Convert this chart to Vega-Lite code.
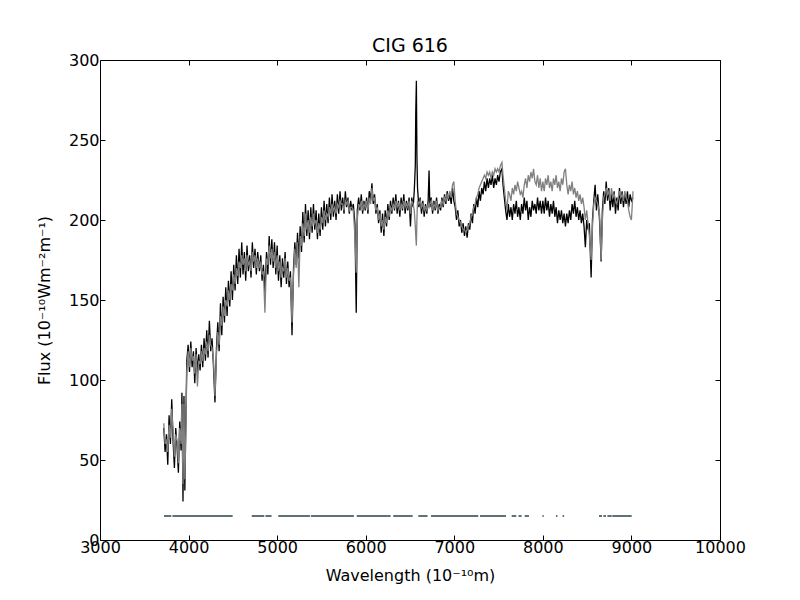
{
  "$schema": "https://vega.github.io/schema/vega-lite/v6.json",
  "width": 620,
  "height": 480,
  "autosize": {"type": "none"},
  "padding": {"left": 100, "top": 60, "right": 80, "bottom": 60},
  "background": "white",
  "title": {"text": "CIG 616", "font": "DejaVu Sans", "fontSize": 19, "fontWeight": "normal", "color": "black", "offset": -23, "anchor": "middle", "baseline": "bottom"},
  "config": {
    "view": {"stroke": "black", "strokeWidth": 1},
    "axis": {
      "domain": false, "grid": false, "tickColor": "black", "tickSize": -5, "tickWidth": 1, "labelFlush": false,
      "labelFont": "DejaVu Sans", "labelFontSize": 16, "labelColor": "black",
      "titleFont": "DejaVu Sans", "titleFontSize": 16, "titleFontWeight": "normal", "titleColor": "black"
    }
  },
  "datasets": {
    "spec": [
      {"wavelength": 3720, "observed": 70, "model": 73},
      {"wavelength": 3735, "observed": 55, "model": 60},
      {"wavelength": 3750, "observed": 66, "model": 62},
      {"wavelength": 3765, "observed": 47, "model": 55},
      {"wavelength": 3780, "observed": 78, "model": 72},
      {"wavelength": 3795, "observed": 60, "model": 64},
      {"wavelength": 3810, "observed": 88, "model": 82},
      {"wavelength": 3825, "observed": 62, "model": 68},
      {"wavelength": 3840, "observed": 45, "model": 52},
      {"wavelength": 3855, "observed": 70, "model": 66},
      {"wavelength": 3870, "observed": 58, "model": 62},
      {"wavelength": 3885, "observed": 42, "model": 48},
      {"wavelength": 3900, "observed": 74, "model": 70},
      {"wavelength": 3915, "observed": 56, "model": 60},
      {"wavelength": 3925, "observed": 92, "model": 85},
      {"wavelength": 3937, "observed": 24, "model": 35},
      {"wavelength": 3948, "observed": 90, "model": 85},
      {"wavelength": 3958, "observed": 31, "model": 38},
      {"wavelength": 3968, "observed": 70, "model": 65},
      {"wavelength": 3980, "observed": 112, "model": 105},
      {"wavelength": 3995, "observed": 122, "model": 118},
      {"wavelength": 4010, "observed": 105, "model": 108},
      {"wavelength": 4025, "observed": 124, "model": 120},
      {"wavelength": 4040, "observed": 108, "model": 112},
      {"wavelength": 4055, "observed": 118, "model": 115},
      {"wavelength": 4070, "observed": 98, "model": 104},
      {"wavelength": 4085, "observed": 120, "model": 116},
      {"wavelength": 4100, "observed": 104, "model": 96},
      {"wavelength": 4115, "observed": 116, "model": 112},
      {"wavelength": 4130, "observed": 106, "model": 110},
      {"wavelength": 4145, "observed": 122, "model": 118},
      {"wavelength": 4160, "observed": 108, "model": 112},
      {"wavelength": 4175, "observed": 126, "model": 120},
      {"wavelength": 4190, "observed": 112, "model": 116},
      {"wavelength": 4205, "observed": 131, "model": 124},
      {"wavelength": 4220, "observed": 114, "model": 118},
      {"wavelength": 4235, "observed": 137, "model": 128},
      {"wavelength": 4250, "observed": 118, "model": 122},
      {"wavelength": 4265, "observed": 126, "model": 120},
      {"wavelength": 4280, "observed": 110, "model": 114},
      {"wavelength": 4298, "observed": 86, "model": 90},
      {"wavelength": 4315, "observed": 120, "model": 116},
      {"wavelength": 4330, "observed": 136, "model": 130},
      {"wavelength": 4345, "observed": 118, "model": 122},
      {"wavelength": 4360, "observed": 148, "model": 140},
      {"wavelength": 4375, "observed": 128, "model": 134},
      {"wavelength": 4390, "observed": 152, "model": 146},
      {"wavelength": 4405, "observed": 136, "model": 140},
      {"wavelength": 4420, "observed": 158, "model": 150},
      {"wavelength": 4435, "observed": 140, "model": 146},
      {"wavelength": 4450, "observed": 162, "model": 156},
      {"wavelength": 4465, "observed": 146, "model": 150},
      {"wavelength": 4480, "observed": 168, "model": 160},
      {"wavelength": 4495, "observed": 150, "model": 156},
      {"wavelength": 4510, "observed": 172, "model": 166},
      {"wavelength": 4525, "observed": 156, "model": 160},
      {"wavelength": 4540, "observed": 178, "model": 170},
      {"wavelength": 4555, "observed": 160, "model": 165},
      {"wavelength": 4570, "observed": 182, "model": 174},
      {"wavelength": 4585, "observed": 164, "model": 170},
      {"wavelength": 4600, "observed": 186, "model": 178},
      {"wavelength": 4615, "observed": 166, "model": 172},
      {"wavelength": 4630, "observed": 180, "model": 176},
      {"wavelength": 4645, "observed": 162, "model": 168},
      {"wavelength": 4660, "observed": 184, "model": 178},
      {"wavelength": 4675, "observed": 168, "model": 172},
      {"wavelength": 4690, "observed": 178, "model": 174},
      {"wavelength": 4705, "observed": 164, "model": 168},
      {"wavelength": 4720, "observed": 186, "model": 180},
      {"wavelength": 4735, "observed": 170, "model": 174},
      {"wavelength": 4750, "observed": 182, "model": 178},
      {"wavelength": 4765, "observed": 166, "model": 170},
      {"wavelength": 4780, "observed": 180, "model": 176},
      {"wavelength": 4800, "observed": 168, "model": 170},
      {"wavelength": 4815, "observed": 178, "model": 174},
      {"wavelength": 4830, "observed": 162, "model": 166},
      {"wavelength": 4845, "observed": 172, "model": 168},
      {"wavelength": 4862, "observed": 155, "model": 142},
      {"wavelength": 4880, "observed": 180, "model": 176},
      {"wavelength": 4895, "observed": 166, "model": 172},
      {"wavelength": 4910, "observed": 190, "model": 184},
      {"wavelength": 4925, "observed": 172, "model": 176},
      {"wavelength": 4940, "observed": 188, "model": 182},
      {"wavelength": 4955, "observed": 170, "model": 174},
      {"wavelength": 4970, "observed": 186, "model": 180},
      {"wavelength": 4985, "observed": 166, "model": 170},
      {"wavelength": 5000, "observed": 184, "model": 178},
      {"wavelength": 5015, "observed": 162, "model": 168},
      {"wavelength": 5030, "observed": 178, "model": 174},
      {"wavelength": 5045, "observed": 158, "model": 164},
      {"wavelength": 5060, "observed": 176, "model": 170},
      {"wavelength": 5075, "observed": 164, "model": 168},
      {"wavelength": 5090, "observed": 180, "model": 176},
      {"wavelength": 5105, "observed": 160, "model": 164},
      {"wavelength": 5120, "observed": 174, "model": 170},
      {"wavelength": 5135, "observed": 158, "model": 162},
      {"wavelength": 5150, "observed": 168, "model": 164},
      {"wavelength": 5168, "observed": 128, "model": 136},
      {"wavelength": 5185, "observed": 170, "model": 166},
      {"wavelength": 5200, "observed": 186, "model": 182},
      {"wavelength": 5215, "observed": 172, "model": 170},
      {"wavelength": 5230, "observed": 192, "model": 186},
      {"wavelength": 5245, "observed": 176, "model": 158},
      {"wavelength": 5260, "observed": 196, "model": 190},
      {"wavelength": 5275, "observed": 180, "model": 184},
      {"wavelength": 5290, "observed": 205, "model": 198},
      {"wavelength": 5305, "observed": 186, "model": 190},
      {"wavelength": 5320, "observed": 210, "model": 204},
      {"wavelength": 5335, "observed": 190, "model": 194},
      {"wavelength": 5350, "observed": 206, "model": 200},
      {"wavelength": 5365, "observed": 188, "model": 192},
      {"wavelength": 5380, "observed": 208, "model": 202},
      {"wavelength": 5395, "observed": 192, "model": 196},
      {"wavelength": 5410, "observed": 210, "model": 204},
      {"wavelength": 5425, "observed": 194, "model": 198},
      {"wavelength": 5440, "observed": 206, "model": 200},
      {"wavelength": 5455, "observed": 188, "model": 192},
      {"wavelength": 5470, "observed": 204, "model": 198},
      {"wavelength": 5485, "observed": 190, "model": 194},
      {"wavelength": 5500, "observed": 208, "model": 202},
      {"wavelength": 5515, "observed": 194, "model": 198},
      {"wavelength": 5530, "observed": 212, "model": 206},
      {"wavelength": 5545, "observed": 196, "model": 200},
      {"wavelength": 5560, "observed": 210, "model": 204},
      {"wavelength": 5575, "observed": 198, "model": 202},
      {"wavelength": 5590, "observed": 214, "model": 208},
      {"wavelength": 5605, "observed": 200, "model": 204},
      {"wavelength": 5620, "observed": 216, "model": 210},
      {"wavelength": 5635, "observed": 202, "model": 206},
      {"wavelength": 5650, "observed": 212, "model": 208},
      {"wavelength": 5665, "observed": 200, "model": 204},
      {"wavelength": 5680, "observed": 216, "model": 210},
      {"wavelength": 5695, "observed": 204, "model": 208},
      {"wavelength": 5710, "observed": 218, "model": 212},
      {"wavelength": 5725, "observed": 206, "model": 210},
      {"wavelength": 5740, "observed": 214, "model": 210},
      {"wavelength": 5755, "observed": 204, "model": 206},
      {"wavelength": 5770, "observed": 218, "model": 212},
      {"wavelength": 5785, "observed": 208, "model": 210},
      {"wavelength": 5800, "observed": 214, "model": 212},
      {"wavelength": 5815, "observed": 204, "model": 206},
      {"wavelength": 5830, "observed": 212, "model": 208},
      {"wavelength": 5845, "observed": 206, "model": 208},
      {"wavelength": 5860, "observed": 210, "model": 206},
      {"wavelength": 5878, "observed": 198, "model": 190},
      {"wavelength": 5893, "observed": 142, "model": 167},
      {"wavelength": 5905, "observed": 206, "model": 200},
      {"wavelength": 5920, "observed": 214, "model": 210},
      {"wavelength": 5935, "observed": 206, "model": 208},
      {"wavelength": 5950, "observed": 216, "model": 212},
      {"wavelength": 5965, "observed": 204, "model": 206},
      {"wavelength": 5980, "observed": 212, "model": 210},
      {"wavelength": 5995, "observed": 206, "model": 208},
      {"wavelength": 6010, "observed": 214, "model": 212},
      {"wavelength": 6025, "observed": 204, "model": 206},
      {"wavelength": 6040, "observed": 218, "model": 214},
      {"wavelength": 6055, "observed": 212, "model": 210},
      {"wavelength": 6070, "observed": 223, "model": 220},
      {"wavelength": 6085, "observed": 210, "model": 212},
      {"wavelength": 6100, "observed": 216, "model": 214},
      {"wavelength": 6115, "observed": 204, "model": 206},
      {"wavelength": 6130, "observed": 210, "model": 208},
      {"wavelength": 6145, "observed": 198, "model": 200},
      {"wavelength": 6160, "observed": 206, "model": 204},
      {"wavelength": 6175, "observed": 192, "model": 196},
      {"wavelength": 6190, "observed": 204, "model": 200},
      {"wavelength": 6205, "observed": 190, "model": 194},
      {"wavelength": 6220, "observed": 206, "model": 202},
      {"wavelength": 6235, "observed": 196, "model": 198},
      {"wavelength": 6250, "observed": 210, "model": 206},
      {"wavelength": 6265, "observed": 200, "model": 202},
      {"wavelength": 6280, "observed": 212, "model": 208},
      {"wavelength": 6295, "observed": 204, "model": 206},
      {"wavelength": 6310, "observed": 214, "model": 210},
      {"wavelength": 6325, "observed": 206, "model": 208},
      {"wavelength": 6340, "observed": 216, "model": 212},
      {"wavelength": 6355, "observed": 204, "model": 208},
      {"wavelength": 6370, "observed": 212, "model": 210},
      {"wavelength": 6385, "observed": 202, "model": 206},
      {"wavelength": 6400, "observed": 214, "model": 210},
      {"wavelength": 6415, "observed": 206, "model": 208},
      {"wavelength": 6430, "observed": 216, "model": 212},
      {"wavelength": 6445, "observed": 204, "model": 208},
      {"wavelength": 6460, "observed": 212, "model": 210},
      {"wavelength": 6475, "observed": 206, "model": 208},
      {"wavelength": 6490, "observed": 214, "model": 212},
      {"wavelength": 6505, "observed": 196, "model": 204},
      {"wavelength": 6520, "observed": 214, "model": 212},
      {"wavelength": 6535, "observed": 208, "model": 210},
      {"wavelength": 6548, "observed": 218, "model": 206},
      {"wavelength": 6560, "observed": 234, "model": 196},
      {"wavelength": 6565, "observed": 267, "model": 190},
      {"wavelength": 6572, "observed": 287, "model": 184},
      {"wavelength": 6578, "observed": 240, "model": 200},
      {"wavelength": 6585, "observed": 220, "model": 212},
      {"wavelength": 6600, "observed": 208, "model": 210},
      {"wavelength": 6615, "observed": 214, "model": 212},
      {"wavelength": 6630, "observed": 204, "model": 208},
      {"wavelength": 6645, "observed": 212, "model": 210},
      {"wavelength": 6660, "observed": 202, "model": 206},
      {"wavelength": 6675, "observed": 210, "model": 208},
      {"wavelength": 6690, "observed": 204, "model": 206},
      {"wavelength": 6705, "observed": 212, "model": 210},
      {"wavelength": 6715, "observed": 231, "model": 208},
      {"wavelength": 6725, "observed": 208, "model": 210},
      {"wavelength": 6740, "observed": 214, "model": 212},
      {"wavelength": 6755, "observed": 204, "model": 206},
      {"wavelength": 6770, "observed": 212, "model": 210},
      {"wavelength": 6785, "observed": 206, "model": 208},
      {"wavelength": 6800, "observed": 214, "model": 212},
      {"wavelength": 6815, "observed": 204, "model": 206},
      {"wavelength": 6830, "observed": 210, "model": 208},
      {"wavelength": 6845, "observed": 206, "model": 208},
      {"wavelength": 6860, "observed": 214, "model": 212},
      {"wavelength": 6875, "observed": 208, "model": 210},
      {"wavelength": 6890, "observed": 216, "model": 214},
      {"wavelength": 6905, "observed": 210, "model": 212},
      {"wavelength": 6920, "observed": 218, "model": 216},
      {"wavelength": 6935, "observed": 212, "model": 214},
      {"wavelength": 6950, "observed": 216, "model": 218},
      {"wavelength": 6965, "observed": 210, "model": 214},
      {"wavelength": 6980, "observed": 220, "model": 222},
      {"wavelength": 6995, "observed": 212, "model": 224},
      {"wavelength": 7010, "observed": 208, "model": 212},
      {"wavelength": 7025, "observed": 200, "model": 204},
      {"wavelength": 7040, "observed": 206, "model": 202},
      {"wavelength": 7055, "observed": 196, "model": 200},
      {"wavelength": 7070, "observed": 200, "model": 198},
      {"wavelength": 7085, "observed": 192, "model": 196},
      {"wavelength": 7100, "observed": 198, "model": 194},
      {"wavelength": 7115, "observed": 190, "model": 194},
      {"wavelength": 7130, "observed": 196, "model": 192},
      {"wavelength": 7145, "observed": 189, "model": 194},
      {"wavelength": 7160, "observed": 198, "model": 196},
      {"wavelength": 7175, "observed": 194, "model": 198},
      {"wavelength": 7190, "observed": 204, "model": 202},
      {"wavelength": 7205, "observed": 198, "model": 204},
      {"wavelength": 7220, "observed": 210, "model": 208},
      {"wavelength": 7235, "observed": 204, "model": 210},
      {"wavelength": 7250, "observed": 214, "model": 214},
      {"wavelength": 7265, "observed": 208, "model": 216},
      {"wavelength": 7280, "observed": 218, "model": 220},
      {"wavelength": 7295, "observed": 212, "model": 222},
      {"wavelength": 7310, "observed": 220, "model": 224},
      {"wavelength": 7325, "observed": 216, "model": 226},
      {"wavelength": 7340, "observed": 224, "model": 228},
      {"wavelength": 7355, "observed": 218, "model": 226},
      {"wavelength": 7370, "observed": 226, "model": 230},
      {"wavelength": 7385, "observed": 220, "model": 228},
      {"wavelength": 7400, "observed": 226, "model": 230},
      {"wavelength": 7415, "observed": 222, "model": 226},
      {"wavelength": 7430, "observed": 228, "model": 230},
      {"wavelength": 7445, "observed": 220, "model": 228},
      {"wavelength": 7460, "observed": 226, "model": 232},
      {"wavelength": 7475, "observed": 222, "model": 230},
      {"wavelength": 7490, "observed": 228, "model": 232},
      {"wavelength": 7505, "observed": 224, "model": 230},
      {"wavelength": 7520, "observed": 230, "model": 234},
      {"wavelength": 7538, "observed": 232, "model": 236},
      {"wavelength": 7550, "observed": 222, "model": 228},
      {"wavelength": 7565, "observed": 214, "model": 220},
      {"wavelength": 7580, "observed": 206, "model": 212},
      {"wavelength": 7595, "observed": 200, "model": 206},
      {"wavelength": 7610, "observed": 210, "model": 218},
      {"wavelength": 7625, "observed": 202, "model": 216},
      {"wavelength": 7640, "observed": 208, "model": 212},
      {"wavelength": 7655, "observed": 200, "model": 220},
      {"wavelength": 7670, "observed": 210, "model": 216},
      {"wavelength": 7685, "observed": 204, "model": 222},
      {"wavelength": 7700, "observed": 212, "model": 218},
      {"wavelength": 7715, "observed": 202, "model": 224},
      {"wavelength": 7730, "observed": 208, "model": 220},
      {"wavelength": 7745, "observed": 200, "model": 216},
      {"wavelength": 7760, "observed": 210, "model": 218},
      {"wavelength": 7775, "observed": 204, "model": 214},
      {"wavelength": 7790, "observed": 214, "model": 222},
      {"wavelength": 7805, "observed": 206, "model": 226},
      {"wavelength": 7820, "observed": 212, "model": 220},
      {"wavelength": 7835, "observed": 200, "model": 228},
      {"wavelength": 7850, "observed": 208, "model": 224},
      {"wavelength": 7865, "observed": 202, "model": 230},
      {"wavelength": 7880, "observed": 212, "model": 226},
      {"wavelength": 7895, "observed": 206, "model": 232},
      {"wavelength": 7910, "observed": 210, "model": 224},
      {"wavelength": 7925, "observed": 204, "model": 222},
      {"wavelength": 7940, "observed": 214, "model": 228},
      {"wavelength": 7955, "observed": 206, "model": 220},
      {"wavelength": 7970, "observed": 212, "model": 226},
      {"wavelength": 7985, "observed": 204, "model": 218},
      {"wavelength": 8000, "observed": 212, "model": 224},
      {"wavelength": 8015, "observed": 204, "model": 218},
      {"wavelength": 8030, "observed": 214, "model": 226},
      {"wavelength": 8045, "observed": 206, "model": 222},
      {"wavelength": 8060, "observed": 212, "model": 228},
      {"wavelength": 8075, "observed": 202, "model": 220},
      {"wavelength": 8090, "observed": 210, "model": 224},
      {"wavelength": 8105, "observed": 204, "model": 218},
      {"wavelength": 8120, "observed": 212, "model": 226},
      {"wavelength": 8135, "observed": 202, "model": 222},
      {"wavelength": 8150, "observed": 208, "model": 228},
      {"wavelength": 8165, "observed": 198, "model": 220},
      {"wavelength": 8180, "observed": 206, "model": 224},
      {"wavelength": 8195, "observed": 200, "model": 218},
      {"wavelength": 8210, "observed": 206, "model": 226},
      {"wavelength": 8225, "observed": 198, "model": 222},
      {"wavelength": 8240, "observed": 204, "model": 230},
      {"wavelength": 8255, "observed": 196, "model": 232},
      {"wavelength": 8270, "observed": 204, "model": 222},
      {"wavelength": 8285, "observed": 198, "model": 216},
      {"wavelength": 8300, "observed": 206, "model": 222},
      {"wavelength": 8315, "observed": 200, "model": 218},
      {"wavelength": 8330, "observed": 210, "model": 224},
      {"wavelength": 8345, "observed": 204, "model": 216},
      {"wavelength": 8360, "observed": 212, "model": 220},
      {"wavelength": 8375, "observed": 202, "model": 214},
      {"wavelength": 8390, "observed": 208, "model": 218},
      {"wavelength": 8405, "observed": 200, "model": 212},
      {"wavelength": 8420, "observed": 206, "model": 216},
      {"wavelength": 8435, "observed": 198, "model": 210},
      {"wavelength": 8450, "observed": 204, "model": 214},
      {"wavelength": 8465, "observed": 196, "model": 208},
      {"wavelength": 8480, "observed": 183, "model": 200},
      {"wavelength": 8495, "observed": 200, "model": 206},
      {"wavelength": 8510, "observed": 194, "model": 198},
      {"wavelength": 8525, "observed": 198, "model": 190},
      {"wavelength": 8545, "observed": 164, "model": 175},
      {"wavelength": 8560, "observed": 200, "model": 196},
      {"wavelength": 8575, "observed": 212, "model": 210},
      {"wavelength": 8590, "observed": 222, "model": 214},
      {"wavelength": 8605, "observed": 206, "model": 212},
      {"wavelength": 8620, "observed": 216, "model": 210},
      {"wavelength": 8640, "observed": 200, "model": 204},
      {"wavelength": 8658, "observed": 174, "model": 175},
      {"wavelength": 8672, "observed": 206, "model": 200},
      {"wavelength": 8687, "observed": 218, "model": 214},
      {"wavelength": 8700, "observed": 210, "model": 216},
      {"wavelength": 8715, "observed": 224, "model": 220},
      {"wavelength": 8730, "observed": 212, "model": 216},
      {"wavelength": 8745, "observed": 220, "model": 218},
      {"wavelength": 8760, "observed": 206, "model": 212},
      {"wavelength": 8775, "observed": 216, "model": 220},
      {"wavelength": 8790, "observed": 208, "model": 214},
      {"wavelength": 8805, "observed": 218, "model": 216},
      {"wavelength": 8820, "observed": 204, "model": 212},
      {"wavelength": 8835, "observed": 214, "model": 210},
      {"wavelength": 8850, "observed": 206, "model": 214},
      {"wavelength": 8865, "observed": 220, "model": 218},
      {"wavelength": 8880, "observed": 210, "model": 214},
      {"wavelength": 8895, "observed": 218, "model": 216},
      {"wavelength": 8910, "observed": 208, "model": 212},
      {"wavelength": 8925, "observed": 216, "model": 218},
      {"wavelength": 8940, "observed": 210, "model": 214},
      {"wavelength": 8955, "observed": 218, "model": 212},
      {"wavelength": 8970, "observed": 208, "model": 206},
      {"wavelength": 8985, "observed": 216, "model": 202},
      {"wavelength": 9000, "observed": 212, "model": 200},
      {"wavelength": 9018, "observed": 214, "model": 218}
    ],
    "mask": [
      {"start": 3722, "end": 3805},
      {"start": 3818, "end": 4498},
      {"start": 4713, "end": 4855},
      {"start": 4868, "end": 4937},
      {"start": 5013, "end": 5370},
      {"start": 5380, "end": 5867},
      {"start": 5898, "end": 6281},
      {"start": 6311, "end": 6530},
      {"start": 6594, "end": 6698},
      {"start": 6737, "end": 7271},
      {"start": 7290, "end": 7584},
      {"start": 7648, "end": 7700},
      {"start": 7725, "end": 7760},
      {"start": 7795, "end": 7843},
      {"start": 7995, "end": 8010},
      {"start": 8148, "end": 8165},
      {"start": 8222, "end": 8240},
      {"start": 8634, "end": 8668},
      {"start": 8683, "end": 8713},
      {"start": 8728, "end": 8777},
      {"start": 8784, "end": 9003}
    ]
  },
  "layer": [
    {
      "data": {"name": "spec"},
      "mark": {"type": "line", "color": "black", "strokeWidth": 1.3, "clip": true},
      "encoding": {
        "x": {"field": "wavelength", "type": "quantitative", "scale": {"domain": [3000, 10000], "nice": false, "zero": false},
              "axis": {"orient": "bottom", "title": "Wavelength (10⁻¹⁰m)", "values": [3000, 4000, 5000, 6000, 7000, 8000, 9000, 10000], "format": "d", "labelPadding": 4, "titlePadding": 12}},
        "y": {"field": "observed", "type": "quantitative", "scale": {"domain": [0, 300], "nice": false},
              "axis": {"orient": "left", "title": "Flux (10⁻¹⁰Wm⁻²m⁻¹)", "values": [0, 50, 100, 150, 200, 250, 300], "labelPadding": 6, "titlePadding": 16}}
      }
    },
    {
      "data": {"name": "spec"},
      "mark": {"type": "line", "color": "#808080", "strokeWidth": 1.3, "clip": true},
      "encoding": {
        "x": {"field": "wavelength", "type": "quantitative", "axis": null},
        "y": {"field": "model", "type": "quantitative", "axis": null}
      }
    },
    {
      "data": {"name": "mask"},
      "mark": {"type": "rule", "color": "#5f7377", "strokeWidth": 2},
      "encoding": {
        "x": {"field": "start", "type": "quantitative",
              "axis": {"orient": "top", "title": null, "labels": false, "values": [3000, 4000, 5000, 6000, 7000, 8000, 9000, 10000]}},
        "x2": {"field": "end"},
        "y": {"datum": 15, "type": "quantitative",
              "axis": {"orient": "right", "title": null, "labels": false, "values": [0, 50, 100, 150, 200, 250, 300]}}
      }
    }
  ],
  "resolve": {"axis": {"x": "independent", "y": "independent"}}
}
